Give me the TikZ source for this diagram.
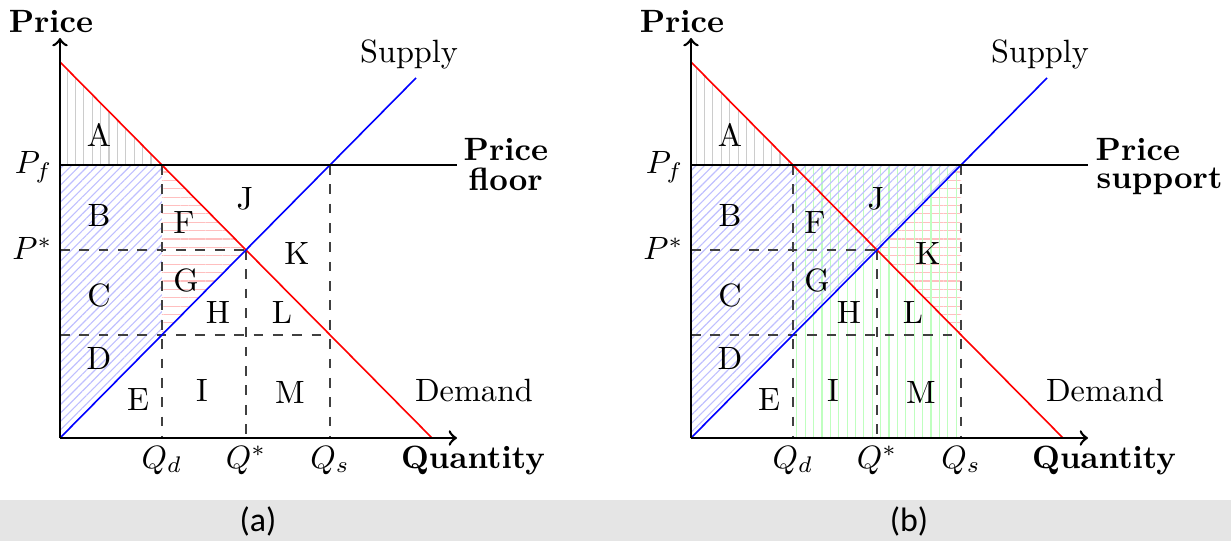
\documentclass[tikz,border=0pt]{standalone}
\usepackage{fontspec}
\newfontfamily\capfont{Carlito}
\usetikzlibrary{patterns.meta}
\tikzset{
  axisline/.style={line width=0.8pt,->},
  pfline/.style={line width=0.8pt},
  demandline/.style={red,line width=0.5pt},
  supplyline/.style={blue,line width=0.5pt},
  guide/.style={dashed,black!75,line width=0.4pt},
  lbl/.style={inner sep=0pt},
  boldlbl/.style={font=\bfseries,anchor=base west,inner sep=0pt},
  patA/.style={pattern={Lines[angle=90,distance=2.6pt,line width=0.35pt]},pattern color=gray!40},
  patB/.style={pattern={Lines[angle=45,distance=1.85pt,line width=0.35pt]},pattern color=blue!25},
  patR/.style={pattern={Lines[angle=0,distance=2.6pt,line width=0.35pt]},pattern color=red!25},
  patG/.style={pattern={Lines[angle=90,distance=2.6pt,line width=0.35pt]},pattern color=green!25},
}
\newcommand{\econcoords}{%
  \coordinate (O) at (60,438);
  \coordinate (Yt) at (60,38);
  \coordinate (Xt) at (457,438);
  \coordinate (Dt) at (60,62);
  \coordinate (Db) at (432,438);
  \coordinate (St) at (416,78);
  \coordinate (Pfl) at (60,165);
  \coordinate (Pfr) at (457,165);
  \coordinate (EQ) at (intersection of Dt--Db and O--St);
  \coordinate (QD) at (intersection of Dt--Db and Pfl--Pfr);
  \coordinate (QS) at (intersection of O--St and Pfl--Pfr);
  \coordinate (QDb) at (QD |- O);
  \coordinate (QSb) at (QS |- O);
  \coordinate (EQb) at (EQ |- O);
  \coordinate (EQl) at (EQ -| O);
  \coordinate (QDS) at (intersection of O--St and QD--QDb);
  \coordinate (QSD) at (intersection of Dt--Db and QS--QSb);
  \coordinate (LOl) at (QDS -| O);
  \coordinate (LOr) at (QDS -| QS);
}
\newcommand{\econlines}{%
  \draw[guide] (EQl) -- (EQ);
  \draw[guide] (QD) -- (QDb);
  \draw[guide] (EQ) -- (EQb);
  \draw[guide] (LOl) -- (LOr);
  \draw[guide] (QS) -- (QSb);
  \draw[demandline] (Dt) -- (Db);
  \draw[supplyline] (O) -- (St);
  \draw[pfline] (Pfl) -- (Pfr);
  \draw[axisline] (O) -- (Yt);
  \draw[axisline] (O) -- (Xt);
  \node[font=\bfseries] (ly) at (51,22) {Price};
  \node[font=\bfseries,anchor=base,inner sep=0pt] (lx) at (473,468) {Quantity};
  \node[anchor=base east,inner sep=0pt] (lpf) at (53,174) {$P_f$};
  \node[anchor=base east,inner sep=0pt] (lps) at (53,260) {$P^*$};
  \node[anchor=base,inner sep=0pt] (lqd) at (162,468) {$Q_d$};
  \node[anchor=base,inner sep=0pt] (lqe) at (246,468) {$Q^*$};
  \node[anchor=base,inner sep=0pt] (lqs) at (330,468) {$Q_s$};
  \node[anchor=base,inner sep=0pt] (lsup) at (409,63) {Supply};
  \node[anchor=base,inner sep=0pt] (ldem) at (474,402) {Demand};
  \node[lbl] (rA) at (99,135) {A};
  \node[lbl] (rB) at (99,215) {B};
  \node[lbl] (rC) at (99,295) {C};
  \node[lbl] (rD) at (99,358) {D};
  \node[lbl] (rE) at (138,400) {E};
  \node[lbl] (rF) at (184,223) {F};
  \node[lbl] (rG) at (186,280) {G};
  \node[lbl] (rH) at (218,312) {H};
  \node[lbl] (rI) at (202,390) {I};
  \node[lbl] (rJ) at (245,199) {J};
  \node[lbl] (rK) at (297,253) {K};
  \node[lbl] (rL) at (282,312) {L};
  \node[lbl] (rM) at (290,392) {M};
}
\begin{document}
\begin{tikzpicture}[x=0.31pt,y=-0.31pt]
\useasboundingbox (0,0) rectangle (1231,541);
% panel (a)
\begin{scope}[name prefix=a-]
  \econcoords
  \fill[patA] (Dt) -- (Pfl) -- (QD) -- cycle;
  \fill[patB] (Pfl) -- (QD) -- (QDS) -- (O) -- cycle;
  \fill[patR] (QD) -- (EQ) -- (QDS) -- cycle;
  \econlines
  \node[boldlbl] (lprice) at (463,161) {Price};
  \node[boldlbl] (lfloor) at (468,191) {floor};
\end{scope}
% panel (b)
\begin{scope}[xshift=195.61pt,name prefix=b-]
  \econcoords
  \fill[patA] (Dt) -- (Pfl) -- (QD) -- cycle;
  \fill[patR] (EQ) -- (QS) -- (QSD) -- cycle;
  \fill[patG] (QD) -- (QS) -- (QSb) -- (QDb) -- cycle;
  \fill[patB] (Pfl) -- (QS) -- (O) -- cycle;
  \econlines
  \node[boldlbl] (lprice) at (464,161) {Price};
  \node[boldlbl] (lsupport) at (465,189) {support};
\end{scope}
% caption bar
\fill[black!10] (0,500) rectangle (1231,541);
\node[font=\capfont\fontsize{10.5}{12}\selectfont] (capa) at (258,521) {(a)};
\node[font=\capfont\fontsize{10.5}{12}\selectfont] (capb) at (909,521) {(b)};
\end{tikzpicture}
\end{document}
